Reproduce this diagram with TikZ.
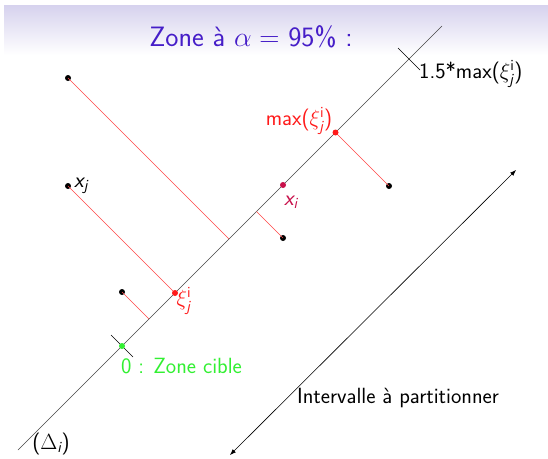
\RequirePackage{fix-cm}
\documentclass[tikz,border=0pt]{standalone}
\usepackage{amsmath}
\usetikzlibrary{calc,arrows.meta}
\definecolor{titlecol}{RGB}{70,30,200}
\definecolor{bandtop}{RGB}{214,210,238}
\definecolor{redline}{RGB}{255,70,70}
\definecolor{redpt}{RGB}{255,25,25}
\definecolor{crimson}{RGB}{200,16,74}
\definecolor{greencol}{RGB}{50,240,50}
\definecolor{axiscol}{RGB}{70,70,70}
\newcommand\sfvar[1]{\text{\itshape #1}}
\newcommand\xij{\xi_{\sfvar{j}}^{\text{\upshape i}}}
\tikzset{
  lbl/.style={font=\sffamily\fontsize{22}{26}\selectfont, inner sep=1pt},
  dotpt/.style={circle, fill=#1, inner sep=0pt, minimum size=6pt},
  proj/.style={draw=redline, line width=0.6pt},
  axis/.style={draw=axiscol, line width=0.6pt},
  tickmark/.style={draw=black, line width=0.6pt},
}
\begin{document}
\begin{tikzpicture}[x=1pt,y=-1pt]
\useasboundingbox (0,0) rectangle (548,458);
\fill[white] (0,0) rectangle (548,458);
\shade[top color=bandtop, bottom color=white] (4,5) rectangle (548,55);
\node[font=\sffamily\fontsize{28}{33}\selectfont, text=titlecol] (title) at (251,37) {Zone à $\alpha =$ 95\% :};

% main line
\coordinate (A) at (18,450);
\coordinate (B) at (442,26);
\draw[axis] (A) -- (B);

% points
\node[dotpt=black] (p1) at (68,78) {};
\node[dotpt=black] (p2) at (68,186) {};
\node[dotpt=black] (p3) at (283,238) {};
\node[dotpt=black] (p4) at (389,186) {};
\node[dotpt=black] (p5) at (122,292) {};

\coordinate (f1) at ($(A)!(p1)!(B)$);
\coordinate (f2) at ($(A)!(p2)!(B)$);
\coordinate (f3) at ($(A)!(p3)!(B)$);
\coordinate (f4) at ($(A)!(p4)!(B)$);
\coordinate (f5) at ($(A)!(p5)!(B)$);

\draw[proj] (p1.center) -- (f1);
\draw[proj] (p2.center) -- (f2);
\draw[proj] (p3.center) -- (f3);
\draw[proj] (p4.center) -- (f4);
\draw[proj] (p5.center) -- (f5);

\node[dotpt=redpt] (xi) at (f2) {};
\node[dotpt=redpt] (mx) at (f4) {};
\node[dotpt=crimson] (xip) at (283,185) {};

% ticks
\coordinate (z0) at (122,346);
\coordinate (z0a) at (111,335);
\coordinate (z0b) at (133,357);
\coordinate (zta) at (398,48);
\coordinate (ztb) at (420,70);
\draw[tickmark] (z0a) -- (z0b);
\draw[tickmark] (zta) -- (ztb);
\node[dotpt=greencol] (zero) at (z0) {};

% labels
\node[lbl, anchor=south west] (lxj) at (73,195) {$\sfvar{x}_{\sfvar{j}}$};
\node[lbl, text=crimson] (lxi) at (291,202) {$\sfvar{x}_{\sfvar{i}}$};
\node[lbl, text=redpt] (lxij) at (184,301) {$\xij$};
\node[lbl, text=redpt] (lmax) at (299,121) {max($\xij$)};
\node[lbl, anchor=west] (lmax15) at (418,74) {1.5*max($\xij$)};
\node[lbl, text=greencol, anchor=west] (lzero) at (120,366) {0 : Zone cible};
\node[lbl] (ldelta) at (51,444) {($\Delta_{\sfvar{i}}$)};
\node[lbl] (linter) at (398,398) {Intervalle à partitionner};

% double arrow
\coordinate (ia) at (230,455);
\coordinate (ib) at (516,170);
\draw[line width=0.6pt, {Latex[length=6pt,width=4.5pt]}-{Latex[length=6pt,width=4.5pt]}] (ia) -- (ib);
\end{tikzpicture}
\end{document}
